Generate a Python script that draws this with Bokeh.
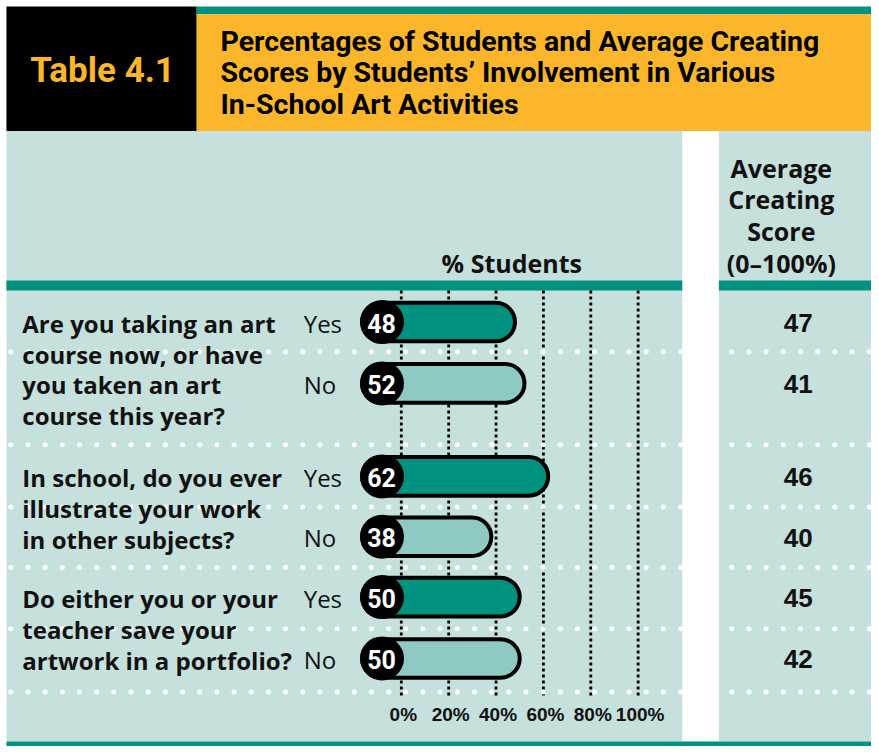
import numpy as np
from bokeh.plotting import figure
from bokeh.models import Range1d
from bokeh.core.properties import value
from bokeh.embed import file_html
from bokeh.resources import INLINE

# ---------------- data ----------------
title_label = "Table 4.1"
title_lines = ["Percentages of Students and Average Creating",
               "Scores by Students\u2019 Involvement in Various",
               "In-School Art Activities"]
students_header = "% Students"
score_header = ["Average", "Creating", "Score", "(0\u2013100%)"]
question_lines = [
    ["Are you taking an art", "course now, or have", "you taken an art", "course this year?"],
    ["In school, do you ever", "illustrate your work", "in other subjects?"],
    ["Do either you or your", "teacher save your", "artwork in a portfolio?"],
]
answers = ["Yes", "No", "Yes", "No", "Yes", "No"]
pct_students = [48, 52, 62, 38, 50, 50]
avg_score = [47, 41, 46, 40, 45, 42]
tick_values = [0, 20, 40, 60, 80, 100]
tick_labels = ["0%", "20%", "40%", "60%", "80%", "100%"]

# ---------------- layout / style ----------------
ORANGE = "#FBB62B"
TEAL = "#00927E"
LIGHT_BAR = "#8FC9C4"
BG = "#C5E0DD"
BLACK = "#000000"
INK = "#111111"

PX0 = 404.5      # reference x of 0%
PXS = 2.39       # reference px per percent
def X(px):
    return (px - PX0) / PXS

row_y = [325, 387, 481, 542, 603, 665]
group_first_row = [0, 2, 4]
line_step = 31.3

W, H = 871, 746
p = figure(width=W, height=H, output_backend="svg", toolbar_location=None,
           x_range=Range1d(X(0), X(879)), y_range=Range1d(754, 0),
           min_border=0, outline_line_color=None, background_fill_color="white",
           border_fill_color="white")
p.axis.visible = False
p.xgrid.visible = False
p.ygrid.visible = False

def rect(x0, x1, y0, y1, color):
    p.quad(left=X(x0), right=X(x1), top=y0, bottom=y1, fill_color=color, line_color=None)

# header blocks
rect(6, 198, 6, 132, BLACK)
rect(198, 879, 6, 14, TEAL)
rect(198, 879, 14, 132, ORANGE)
# body background
rect(6, 879, 132, 749, BG)
rect(688, 725, 132, 749, "white")
# teal bands
rect(6, 688, 283, 293, TEAL)
rect(725, 879, 283, 293, TEAL)
rect(6, 879, 749, 754, TEAL)

# vertical dotted gridlines
for tv in tick_values:
    p.segment(x0=tv, x1=tv, y0=293, y1=704, line_color=BLACK, line_width=2.8, line_dash="3 3")

# white dotted separators
sep_y = [355, 449, 512, 573, 635, 699]
dots_left = np.arange(10.4, 688, 17.33)
dots_right = np.arange(738, 882, 17.33)
dx = np.concatenate([dots_left, dots_right])
for sy in sep_y:
    p.scatter(x=[X(v) for v in dx], y=[sy] * len(dx), marker="circle", size=5,
              fill_color="white", line_color=None)

# bars
bar_colors = [TEAL if a == "Yes" else LIGHT_BAR for a in answers]
p.hbar(y=row_y, left=X(365), right=pct_students, height=39,
       fill_color=bar_colors, line_color=BLACK, line_width=4, border_radius=20)
p.scatter(x=[X(385)] * len(row_y), y=row_y, marker="circle", size=44,
          fill_color=BLACK, line_color=None)
p.text(x=[X(384.5)] * len(row_y), y=[y + 1 for y in row_y], text=[str(v) for v in pct_students],
       text_color="white", text_font=value("Roboto"), text_font_style="bold",
       text_font_size="25px", text_align="center", text_baseline="middle")

# yes/no labels
p.text(x=[X(306)] * len(row_y), y=[y + 1 for y in row_y], text=answers, text_color=INK,
       text_font=value("Open Sans"), text_font_size="24px", text_align="left",
       text_baseline="middle")

# question texts
qx, qy, qt = [], [], []
for gi, lines in enumerate(question_lines):
    y0 = row_y[group_first_row[gi]]
    for li, t in enumerate(lines):
        qx.append(X(22)); qy.append(y0 + li * line_step + 1); qt.append(t)
p.text(x=qx, y=qy, text=qt, text_color=INK, text_font=value("Open Sans"),
       text_font_style="bold", text_font_size="24px", text_align="left", text_baseline="middle")

# average creating scores
p.text(x=[X(805)] * len(row_y), y=[y + 1 for y in row_y], text=[str(v) for v in avg_score],
       text_color=INK, text_font=value("Liberation Sans"), text_font_style="bold",
       text_font_size="26px", text_align="center", text_baseline="middle")

# headers
p.text(x=[X(516)], y=[265], text=[students_header], text_color=INK,
       text_font=value("Open Sans"), text_font_style="bold", text_font_size="25px",
       text_align="center", text_baseline="middle")
p.text(x=[X(788)] * 4, y=[169, 201, 233, 265], text=score_header, text_color=INK,
       text_font=value("Open Sans"), text_font_style="bold", text_font_size="25px",
       text_align="center", text_baseline="middle")

# tick labels
p.text(x=tick_values, y=[722] * len(tick_values), text=tick_labels, text_color=INK,
       text_font=value("Liberation Sans"), text_font_style="bold", text_font_size="19px",
       text_align="center", text_baseline="middle", x_offset=2)

# titles
p.text(x=[X(30)], y=[71], text=[title_label], text_color=ORANGE,
       text_font=value("Roboto"), text_font_style="bold", text_font_size="35px",
       text_align="left", text_baseline="middle")
p.text(x=[X(222)] * 3, y=[41, 73, 105], text=title_lines, text_color=BLACK,
       text_font=value("Roboto"), text_font_style="bold", text_font_size="28.5px",
       text_align="left", text_baseline="middle")

open("out.html", "w").write(file_html(p, INLINE))
